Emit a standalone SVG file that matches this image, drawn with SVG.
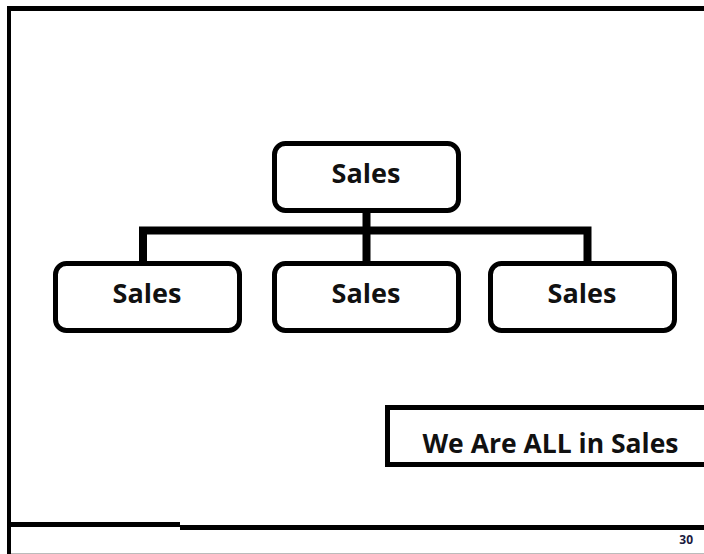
<svg xmlns="http://www.w3.org/2000/svg" width="704" height="554" viewBox="0 0 704 554">
<style>
.box{fill:#fff;stroke:#000;stroke-width:5}
.lbl{font-family:"Open Sans","Liberation Sans",sans-serif;font-weight:bold;font-size:27px;fill:#111;text-anchor:middle}
.con{stroke:#000;fill:none}
</style>
<rect width="704" height="554" fill="#fff"/>
<g id="frame">
<line x1="704" y1="8.5" x2="9" y2="8.5" stroke="#000" stroke-width="5"/>
<line x1="9" y1="6" x2="9" y2="554" stroke="#000" stroke-width="4"/>
<line x1="9" y1="524.5" x2="180" y2="524.5" stroke="#000" stroke-width="5"/>
<line x1="180" y1="527.5" x2="704" y2="527.5" stroke="#000" stroke-width="5"/>
<line x1="11" y1="553.5" x2="704" y2="553.5" stroke="#bbb" stroke-width="1"/>
</g>
<g id="connectors">
<line class="con" x1="366.5" y1="213" x2="366.5" y2="262" stroke-width="8"/>
<path class="con" d="M143 262 V230.5 H587.5 V262" stroke-width="8"/>
</g>
<g id="n-top">
<rect class="box" x="274.5" y="143.5" width="184" height="67" rx="11"/>
<text class="lbl" x="366" y="183">Sales</text>
</g>
<g id="n-left">
<rect class="box" x="55.5" y="263.5" width="184" height="67" rx="11"/>
<text class="lbl" x="147" y="303">Sales</text>
</g>
<g id="n-mid">
<rect class="box" x="274.5" y="263.5" width="184" height="67" rx="11"/>
<text class="lbl" x="366" y="303">Sales</text>
</g>
<g id="n-right">
<rect class="box" x="490.5" y="263.5" width="184" height="67" rx="11"/>
<text class="lbl" x="582" y="303">Sales</text>
</g>
<g id="n-slogan">
<rect class="box" x="387.5" y="407.5" width="330" height="57"/>
<text class="lbl" x="550.5" y="453" style="font-size:26.5px">We Are ALL in Sales</text>
</g>
<text x="693" y="544" font-family="Open Sans, Liberation Sans, sans-serif" font-weight="bold" font-size="12" fill="#1a1a40" text-anchor="end">30</text>
</svg>
